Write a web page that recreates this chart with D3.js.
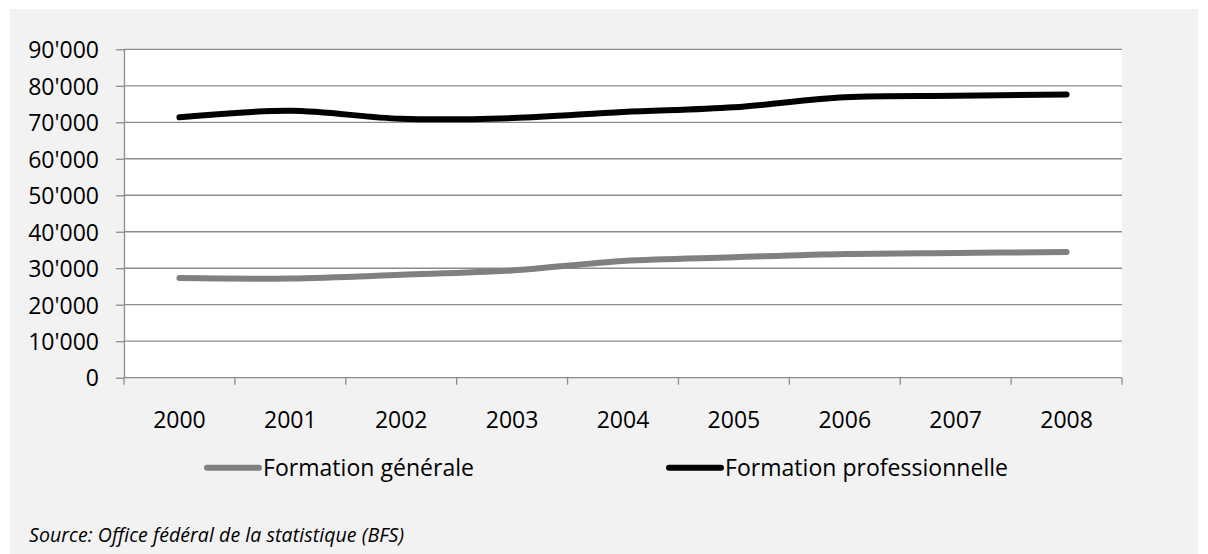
<!DOCTYPE html>
<html>
<head>
    <script src="https://d3js.org/d3.v7.min.js"></script>
    <style>
        body {
            margin: 0;
            background: #fff;
            font-family: "Open Sans", sans-serif;
        }
        .grid line {
            stroke: #8c8c8c;
            stroke-width: 1.3;
        }
        .axis path, .axis line {
            stroke: #8c8c8c;
            stroke-width: 1.3;
        }
        .axis text {
            fill: #000;
            font-family: "Open Sans", sans-serif;
            font-size: 23px;
        }
        .legend text {
            font-size: 23px;
            fill: #000;
        }
        .source {
            font-size: 19.5px;
            font-style: italic;
            fill: #000;
        }
    </style>
</head>
<body>
    <div id="chart"></div>
    <script>
        // data
        const years = ["2000", "2001", "2002", "2003", "2004", "2005", "2006", "2007", "2008"];
        const generale = [27300, 27200, 28200, 29400, 32000, 33000, 33900, 34200, 34450];
        const professionnelle = [71350, 73150, 70950, 71150, 72800, 74100, 76850, 77250, 77600];
        const yTicks = [0, 10000, 20000, 30000, 40000, 50000, 60000, 70000, 80000, 90000];
        const seriesNames = ["Formation générale", "Formation professionnelle"];
        const seriesColors = ["#808080", "#000000"];
        const sourceText = "Source: Office fédéral de la statistique (BFS)";

        const width = 1208, height = 554;
        const plot = { left: 124, right: 1122, top: 49.3, bottom: 377.7 };

        const svg = d3.select("#chart").append("svg")
            .attr("width", width)
            .attr("height", height);

        // panel background
        svg.append("rect")
            .attr("x", 10).attr("y", 9)
            .attr("width", 1188).attr("height", height - 9)
            .attr("fill", "#f2f2f2");

        svg.append("rect")
            .attr("x", plot.left).attr("y", plot.top)
            .attr("width", plot.right - plot.left)
            .attr("height", plot.bottom - plot.top)
            .attr("fill", "#fff");

        const x = d3.scaleBand()
            .domain(years)
            .range([plot.left, plot.right]);

        const y = d3.scaleLinear()
            .domain([0, 90000])
            .range([plot.bottom, plot.top]);

        const fmt = v => d3.format(",")(v).replace(/,/g, "'");

        // gridlines
        svg.append("g")
            .attr("class", "grid")
            .selectAll("line")
            .data(yTicks.filter(d => d > 0))
            .enter().append("line")
            .attr("x1", plot.left).attr("x2", plot.right)
            .attr("y1", d => y(d)).attr("y2", d => y(d));

        // y axis
        const yAxis = svg.append("g")
            .attr("class", "axis")
            .attr("transform", `translate(${plot.left},0)`)
            .call(d3.axisLeft(y).tickValues(yTicks).tickFormat(fmt).tickSize(8).tickSizeOuter(0).tickPadding(17));
        yAxis.selectAll("text").attr("dy", "0.36em");

        // x axis, ticks on category boundaries
        const xAxis = svg.append("g")
            .attr("class", "axis")
            .attr("transform", `translate(0,${plot.bottom})`);
        xAxis.append("line")
            .attr("x1", plot.left).attr("x2", plot.right);
        const bounds = years.map(d => x(d)).concat([plot.right]);
        xAxis.selectAll(".tickmark")
            .data(bounds)
            .enter().append("line")
            .attr("class", "tickmark")
            .attr("x1", d => d).attr("x2", d => d)
            .attr("y1", 0).attr("y2", 7);
        xAxis.selectAll(".lbl")
            .data(years)
            .enter().append("text")
            .attr("class", "lbl")
            .attr("x", d => x(d) + x.bandwidth() / 2)
            .attr("y", 50.5)
            .attr("text-anchor", "middle")
            .text(d => d);

        // lines
        const line = d3.line()
            .x((d, i) => x(years[i]) + x.bandwidth() / 2)
            .y(d => y(d))
            .curve(d3.curveCatmullRom.alpha(0.5));

        [generale, professionnelle].forEach((vals, i) => {
            svg.append("path")
                .datum(vals)
                .attr("fill", "none")
                .attr("stroke", seriesColors[i])
                .attr("stroke-width", 6)
                .attr("stroke-linecap", "round")
                .attr("stroke-linejoin", "round")
                .attr("d", line);
        });

        // legend
        const legendX = [207, 669];
        const legendW = [211, 283];
        const legend = svg.append("g").attr("class", "legend");
        seriesNames.forEach((name, i) => {
            legend.append("line")
                .attr("x1", legendX[i]).attr("x2", legendX[i] + 52)
                .attr("y1", 467.7).attr("y2", 467.7)
                .attr("stroke", seriesColors[i])
                .attr("stroke-width", 6)
                .attr("stroke-linecap", "round");
            legend.append("text")
                .attr("x", legendX[i] + 56)
                .attr("y", 476)
                .attr("textLength", legendW[i])
                .attr("lengthAdjust", "spacing")
                .text(name);
        });

        svg.append("text")
            .attr("class", "source")
            .attr("x", 29)
            .attr("y", 542)
            .attr("textLength", 375)
            .attr("lengthAdjust", "spacing")
            .text(sourceText);
    </script>
</body>
</html>
